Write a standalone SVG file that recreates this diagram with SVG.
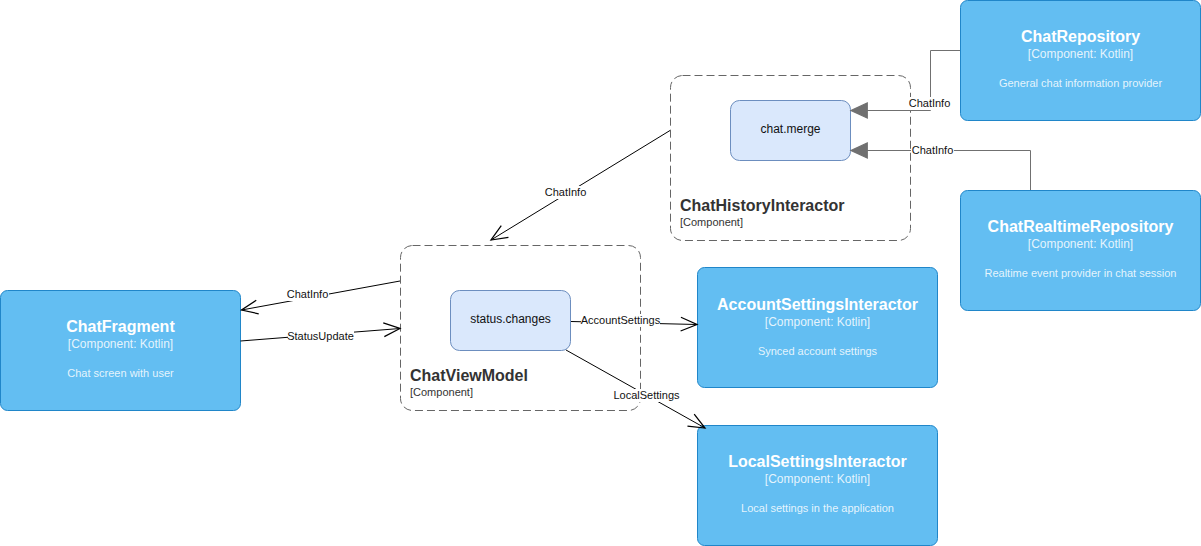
<svg xmlns="http://www.w3.org/2000/svg" width="1201" height="546" viewBox="0 0 1201 546">
<style>
.comp{fill:#63BEF2;stroke:#2086C9;stroke-width:1}
.title{font-family:"Liberation Sans",Arial,sans-serif;font-size:16px;font-weight:bold;fill:#fff;text-anchor:middle}
.sub{font-family:"Liberation Sans",Arial,sans-serif;font-size:12px;fill:#fff;fill-opacity:0.85;text-anchor:middle}
.desc{font-family:"Liberation Sans",Arial,sans-serif;font-size:11px;fill:#fff;fill-opacity:0.85;text-anchor:middle}
.bound{fill:none;stroke:#666;stroke-dasharray:8 4;stroke-width:1}
.btitle{font-family:"Liberation Sans",Arial,sans-serif;font-size:16px;font-weight:bold;fill:#333}
.bsub{font-family:"Liberation Sans",Arial,sans-serif;font-size:11px;fill:#333}
.inner{fill:#dae8fc;stroke:#6c8ebf;stroke-width:1}
.itext{font-family:"Liberation Sans",Arial,sans-serif;font-size:12px;fill:#111;text-anchor:middle}
.edge{fill:none;stroke:#000;stroke-width:1}
.gedge{fill:none;stroke:#707070;stroke-width:1}
.elabel{font-family:"Liberation Sans",Arial,sans-serif;font-size:11px;fill:#111;text-anchor:middle}
.lbg{fill:#fff}
</style>
<defs>
<marker id="open" markerUnits="userSpaceOnUse" markerWidth="20" markerHeight="20" viewBox="-14 -8 16 16" refX="0" refY="0" orient="auto">
<path d="M-13,-5.5 L0,0 L-13,5.5" fill="none" stroke="#000" stroke-width="1"/>
</marker>
<marker id="block" markerUnits="userSpaceOnUse" markerWidth="20" markerHeight="20" viewBox="-14 -8 16 16" refX="0" refY="0" orient="auto">
<path d="M-13,-6 L0,0 L-13,6 Z" fill="#707070" stroke="#707070" stroke-width="1"/>
</marker>
</defs>

<g id="ChatViewModel">
<rect class="bound" x="400.5" y="245.5" width="240" height="165" rx="12"/>
<text class="btitle" x="410" y="381">ChatViewModel</text>
<text class="bsub" x="410" y="396">[Component]</text>
</g>
<g id="ChatHistoryInteractor">
<rect class="bound" x="670.5" y="75.5" width="240" height="165" rx="12"/>
<text class="btitle" x="680" y="211">ChatHistoryInteractor</text>
<text class="bsub" x="680" y="226">[Component]</text>
</g>
<g id="status.changes">
<rect class="inner" x="450.5" y="290.5" width="120" height="60" rx="9"/>
<text class="itext" x="510.5" y="323">status.changes</text>
</g>
<g id="chat.merge">
<rect class="inner" x="730.5" y="100.5" width="120" height="60" rx="9"/>
<text class="itext" x="790.5" y="133">chat.merge</text>
</g>

<g id="ChatFragment">
<rect class="comp" x="0.5" y="290.5" width="240" height="120" rx="7"/>
<text class="title" x="120.5" y="332">ChatFragment</text>
<text class="sub" x="120.5" y="348">[Component: Kotlin]</text>
<text class="desc" x="120.5" y="377">Chat screen with user</text>
</g>
<g id="ChatRepository">
<rect class="comp" x="960.5" y="0.5" width="240" height="120" rx="7"/>
<text class="title" x="1080.5" y="42">ChatRepository</text>
<text class="sub" x="1080.5" y="58">[Component: Kotlin]</text>
<text class="desc" x="1080.5" y="87">General chat information provider</text>
</g>
<g id="ChatRealtimeRepository">
<rect class="comp" x="960.5" y="190.5" width="240" height="120" rx="7"/>
<text class="title" x="1080.5" y="232">ChatRealtimeRepository</text>
<text class="sub" x="1080.5" y="248">[Component: Kotlin]</text>
<text class="desc" x="1080.5" y="277">Realtime event provider in chat session</text>
</g>
<g id="AccountSettingsInteractor">
<rect class="comp" x="697.5" y="267.5" width="240" height="120" rx="7"/>
<text class="title" x="817.5" y="310">AccountSettingsInteractor</text>
<text class="sub" x="817.5" y="326">[Component: Kotlin]</text>
<text class="desc" x="817.5" y="355">Synced account settings</text>
</g>
<g id="LocalSettingsInteractor">
<rect class="comp" x="697.5" y="425.5" width="240" height="120" rx="7"/>
<text class="title" x="817.5" y="467">LocalSettingsInteractor</text>
<text class="sub" x="817.5" y="483">[Component: Kotlin]</text>
<text class="desc" x="817.5" y="512">Local settings in the application</text>
</g>

<g id="connectors">
<path class="gedge" d="M960,50.5 H930.5 V110.5 H851" marker-end="url(#block)"/>
<rect class="lbg" x="908" y="97" width="43" height="13"/>
<text class="elabel" x="929.5" y="107">ChatInfo</text>

<path class="gedge" d="M1030.5,190 V150.5 H851" marker-end="url(#block)"/>
<rect class="lbg" x="911" y="144" width="43" height="13"/>
<text class="elabel" x="932.5" y="154">ChatInfo</text>

<path class="edge" d="M670,130.5 L491,240" marker-end="url(#open)"/>
<rect class="lbg" x="544" y="186" width="43" height="13"/>
<text class="elabel" x="565.5" y="196">ChatInfo</text>

<path class="edge" d="M400,281 L241.5,310" marker-end="url(#open)"/>
<rect class="lbg" x="286" y="288" width="43" height="13"/>
<text class="elabel" x="307.5" y="298">ChatInfo</text>

<path class="edge" d="M240.5,341 L400,328.5" marker-end="url(#open)"/>
<rect class="lbg" x="288" y="330" width="66" height="13"/>
<text class="elabel" x="320.5" y="340">StatusUpdate</text>

<path class="edge" d="M571,321.5 L697,324.5" marker-end="url(#open)"/>
<rect class="lbg" x="581" y="314" width="79" height="13"/>
<text class="elabel" x="620.5" y="324">AccountSettings</text>

<path class="edge" d="M566,350 L705,428" marker-end="url(#open)"/>
<rect class="lbg" x="613" y="389" width="67" height="13"/>
<text class="elabel" x="646.5" y="399">LocalSettings</text>
</g>
</svg>
